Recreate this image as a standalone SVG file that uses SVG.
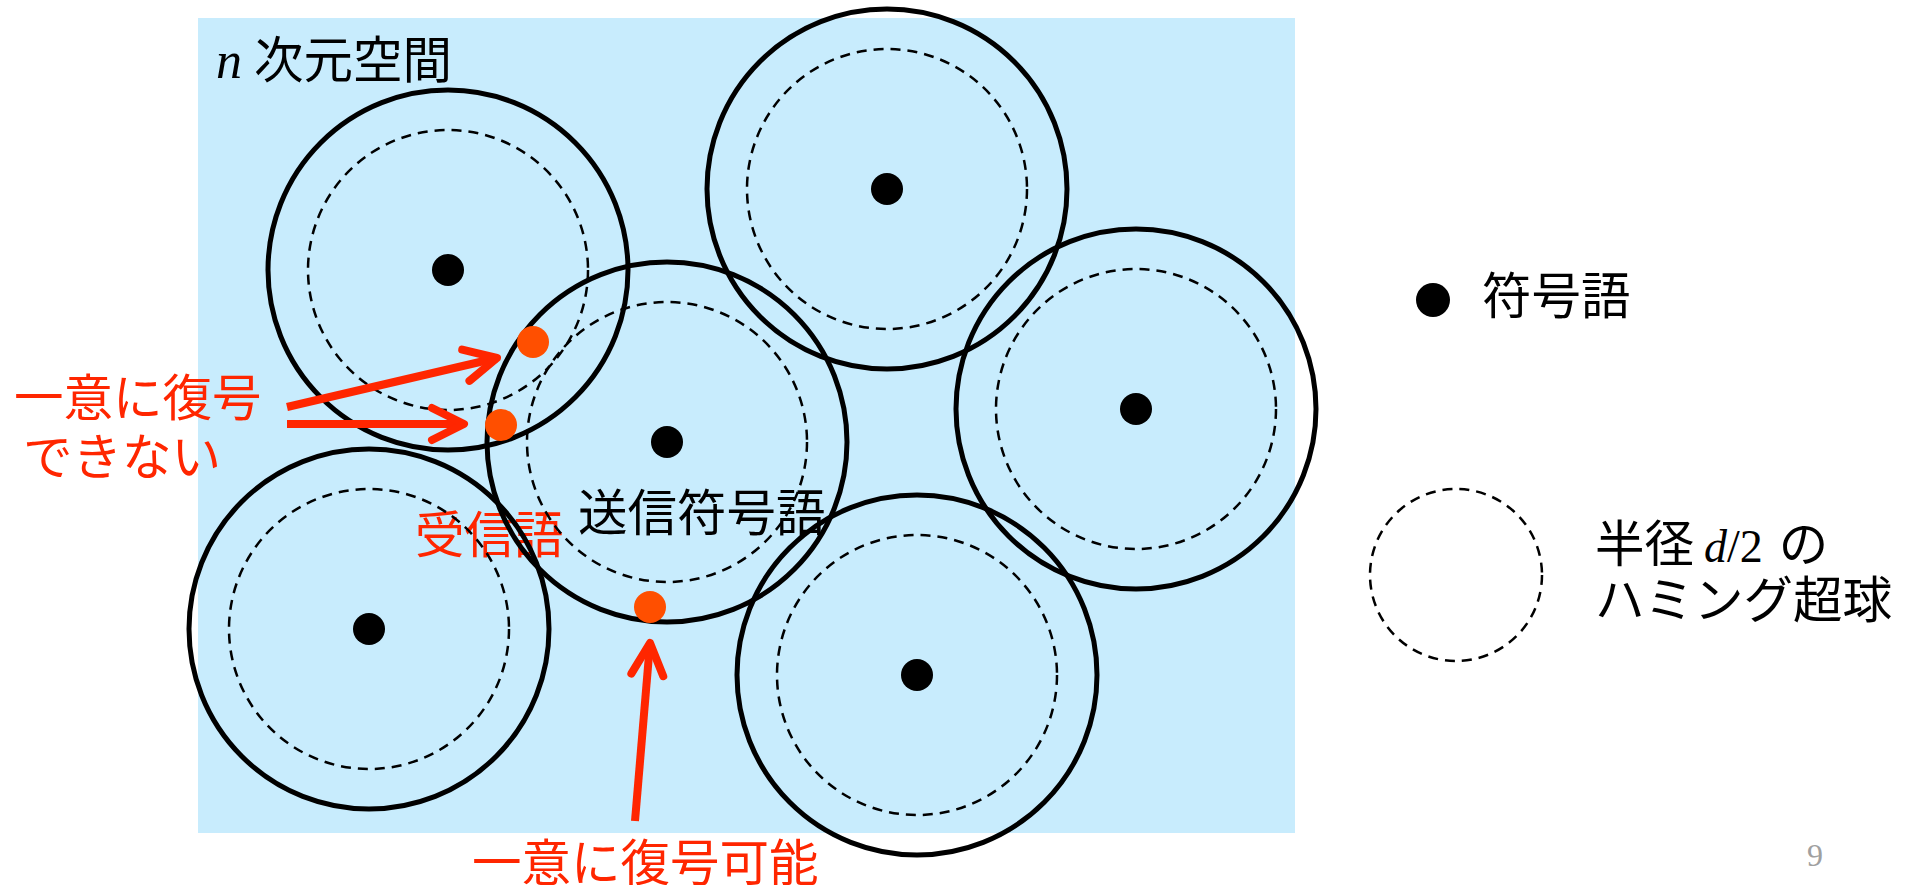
<svg xmlns="http://www.w3.org/2000/svg" width="1915" height="885" viewBox="0 0 1915 885">
<defs>
<style>
.bg{fill:#C8ECFD}
.ring{fill:none;stroke:#000;stroke-width:5}
.half{fill:none;stroke:#000;stroke-width:2.5;stroke-dasharray:10 7}
.cw{fill:#000}
.rx{fill:#FF4F00}
.jp{font-family:"Noto Sans CJK JP","Noto Sans",sans-serif;font-size:49.5px}
.red{fill:#FF2600}
.blk{fill:#000}
.arrow{fill:none;stroke:#FF2600;stroke-width:8;marker-end:url(#chev)}
.ser{font-family:"Liberation Serif",serif}
</style>
<marker id="chev" markerUnits="userSpaceOnUse" markerWidth="80" markerHeight="80" refX="0" refY="0" orient="auto" overflow="visible">
<path d="M -32 -16 L 0 0 L -32 16" fill="none" stroke="#FF2600" stroke-width="8" stroke-linecap="round" stroke-linejoin="round"/>
</marker>
</defs>
<rect id="space" class="bg" x="198" y="18" width="1097" height="815"/>
<g id="title">
<text x="216" y="78" class="ser" font-style="italic" font-size="52">n</text>
<text x="254" y="78" class="jp blk">次元空間</text>
</g>
<g id="label-received">
<text x="415" y="553" class="jp red">受信語</text>
</g>
<g id="node-1"><circle class="ring" cx="448" cy="270" r="180"/><circle class="half" cx="448" cy="270" r="140"/><circle class="cw" cx="448" cy="270" r="16"/></g>
<g id="node-2"><circle class="ring" cx="667" cy="442" r="180"/><circle class="half" cx="667" cy="442" r="140"/><circle class="cw" cx="667" cy="442" r="16"/>
<text x="578" y="531" class="jp blk" font-size="44">送信符号語</text></g>
<g id="node-3"><circle class="ring" cx="369" cy="629" r="180"/><circle class="half" cx="369" cy="629" r="140"/><circle class="cw" cx="369" cy="629" r="16"/></g>
<g id="node-4"><circle class="ring" cx="887" cy="189" r="180"/><circle class="half" cx="887" cy="189" r="140"/><circle class="cw" cx="887" cy="189" r="16"/></g>
<g id="node-5"><circle class="ring" cx="1136" cy="409" r="180"/><circle class="half" cx="1136" cy="409" r="140"/><circle class="cw" cx="1136" cy="409" r="16"/></g>
<g id="node-6"><circle class="ring" cx="917" cy="675" r="180"/><circle class="half" cx="917" cy="675" r="140"/><circle class="cw" cx="917" cy="675" r="16"/></g>
<g id="received-words">
<circle class="rx" cx="533" cy="342" r="16"/>
<circle class="rx" cx="501" cy="425" r="16"/>
<circle class="rx" cx="650" cy="607" r="16"/>
</g>
<g id="connectors">
<path class="arrow" d="M 287 407 L 497 358"/>
<path class="arrow" d="M 287 424 L 464 424"/>
<path class="arrow" d="M 635 821 L 650 643"/>
</g>
<g id="label-not-unique">
<text x="14" y="416" class="jp red">一意に復号</text>
<text x="23" y="475" class="jp red">できない</text>
</g>
<g id="label-unique">
<text x="472" y="881" class="jp red">一意に復号可能</text>
</g>
<g id="legend-codeword">
<circle class="cw" cx="1433" cy="300" r="17"/>
<text x="1482" y="314" class="jp blk">符号語</text>
</g>
<g id="legend-sphere">
<circle class="half" cx="1456" cy="575" r="86"/>
<text x="1595" y="562" class="jp blk">半径<tspan class="ser" font-size="46" font-style="italic" dx="10">d</tspan><tspan class="ser" font-size="46">/2</tspan><tspan dx="16">の</tspan></text>
<text x="1595" y="618" class="jp blk">ハミング超球</text>
</g>
<text id="page" x="1807" y="866" class="ser" font-size="32" fill="#A0A0A0">9</text>
</svg>
